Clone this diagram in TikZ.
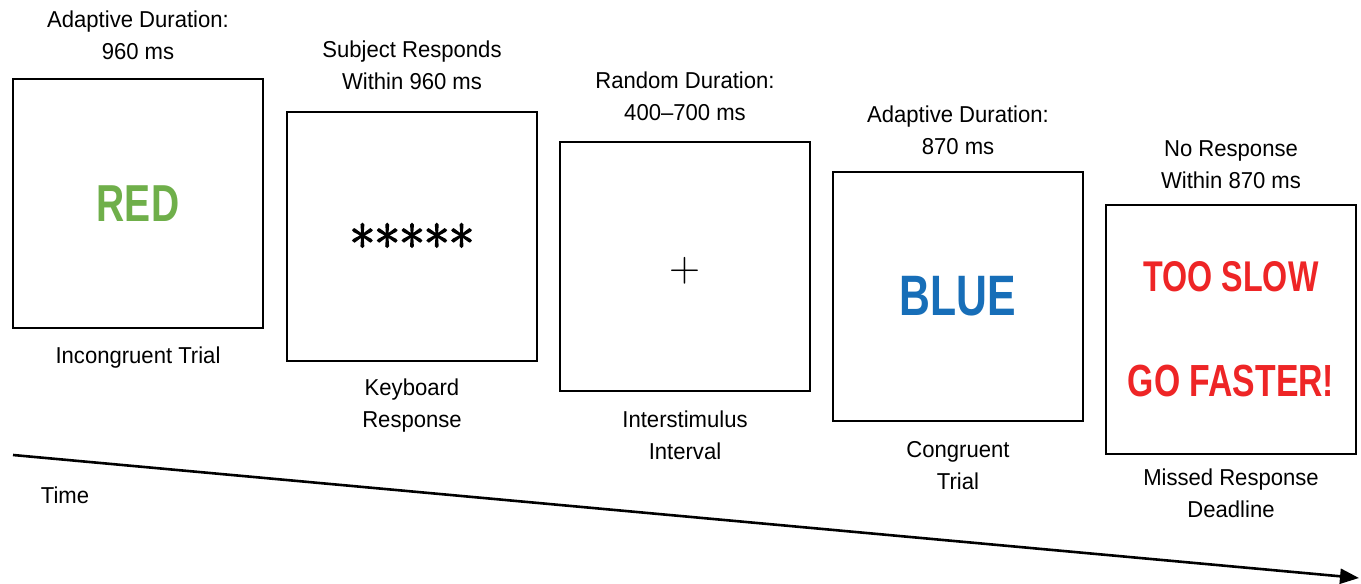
\documentclass[tikz,border=0pt]{standalone}
\usepackage{fontspec}
\setmainfont{Liberation Sans}[FakeStretch=0.96]
\newfontfamily\condb{Liberation Sans Bold}[FakeStretch=0.75]
\newfontfamily\lmplus{Latin Modern Roman}
\newfontfamily\starfont{Latin Modern Roman}[FakeBold=3]
\usetikzlibrary{arrows.meta}
\definecolor{wgreen}{HTML}{6FAF4A}
\definecolor{wblue}{HTML}{176EB8}
\definecolor{wred}{HTML}{EE2526}
\begin{document}
\begin{tikzpicture}[x=1pt,y=-1pt,
  frame/.style={draw=black, line width=2pt, minimum width=250pt, minimum height=249pt, inner sep=0pt, fill=white},
  lab/.style={font=\fontsize{23}{32}\selectfont, align=center, inner sep=0pt, text=black},
  word/.style={font=\condb\fontsize{#1}{#1}\selectfont, inner sep=0pt},
  timeline/.style={line width=2.6pt, -{Triangle[length=19pt,width=15pt]}}]
\useasboundingbox (0,0) rectangle (1361,584);
% boxes
\node[frame] (b1) at (138,203.5) {};
\node[frame] (b2) at (412,236) {};
\node[frame] (b3) at (685,266.5) {};
\node[frame] (b4) at (958,296.5) {};
\node[frame] (b5) at (1231,329) {};
% box contents
\node[word=52, text=wgreen] (red) at (b1.center) {RED};
\node[font=\starfont\fontsize{54}{54}\selectfont, inner sep=0pt] (stars) at ([yshift=-8]b2.center) {*****};
\node[font=\lmplus\fontsize{43}{43}\selectfont, inner sep=0pt] (plus) at ([yshift=-4]b3.center) {+};
\node[word=57, text=wblue] (blue) at (b4.center) {BLUE};
\node[word=43, text=wred] (slow) at ([yshift=52]b5.center) {TOO SLOW};
\node[word=45, text=wred] (fast) at ([yshift=-52]b5.center) {GO FASTER!};
% labels above
\node[lab] (t1) at ([yshift=43]b1.north) {Adaptive Duration:\\960 ms};
\node[lab] (t2) at ([yshift=45]b2.north) {Subject Responds\\Within 960 ms};
\node[lab] (t3) at ([yshift=44.5]b3.north) {Random Duration:\\400--700 ms};
\node[lab] (t4) at ([yshift=41]b4.north) {Adaptive Duration:\\870 ms};
\node[lab] (t5) at ([yshift=39]b5.north) {No Response\\Within 870 ms};
% labels below
\node[lab] (u1) at ([yshift=-29]b1.south) {Incongruent Trial};
\node[lab] (u2) at ([yshift=-44]b2.south) {Keyboard\\Response};
\node[lab] (u3) at ([yshift=-43]b3.south) {Interstimulus\\Interval};
\node[lab] (u4) at ([yshift=-44]b4.south) {Congruent\\Trial};
\node[lab] (u5) at ([yshift=-39]b5.south) {Missed Response\\Deadline};
% time axis
\coordinate (ts) at (13,455);
\coordinate (te) at (1359,578);
\draw[timeline] (ts) -- (te);
\node[lab] (time) at (65,495) {Time};
\end{tikzpicture}
\end{document}
